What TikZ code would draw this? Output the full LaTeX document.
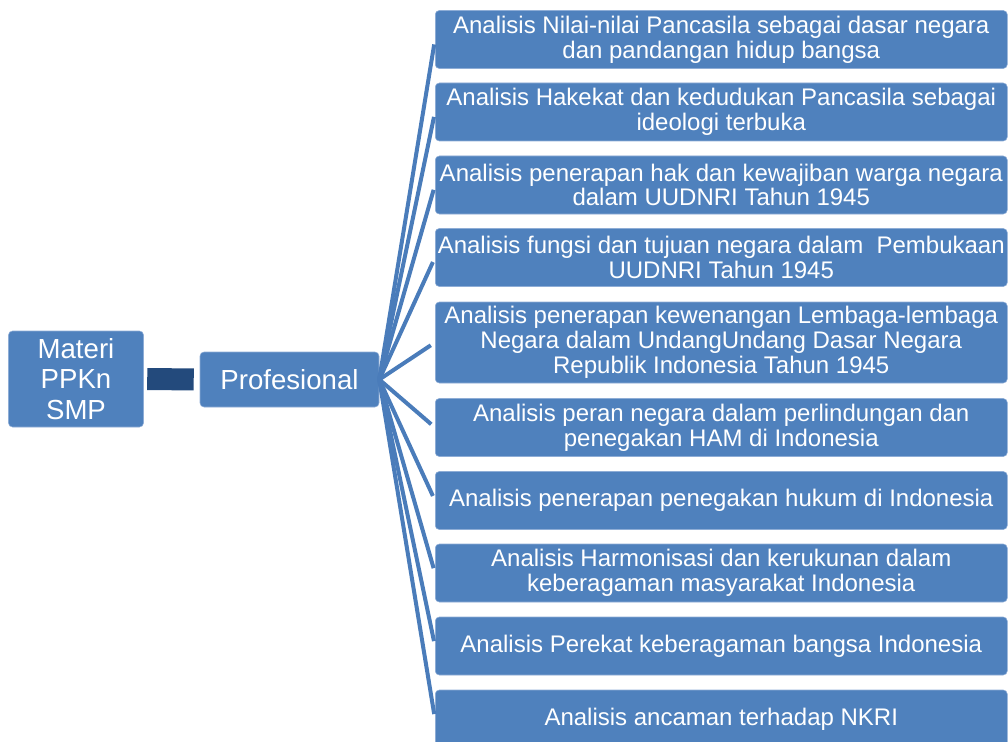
\documentclass[tikz,border=0pt]{standalone}
\usepackage{fontspec}
\setmainfont{Liberation Sans}
\definecolor{boxblue}{HTML}{4F81BD}
\definecolor{edgeblue}{HTML}{8EADD6}
\definecolor{linkblue}{HTML}{234A7C}
\definecolor{fanblue}{HTML}{4A7CBA}
\begin{document}
\begin{tikzpicture}[x=0.75pt,y=-0.75pt,
  base/.style={fill=boxblue, draw=edgeblue, line width=0.4pt, rounded corners=3pt, text=white, align=center, inner sep=0pt},
  item/.style={base, minimum width=429pt, minimum height=43.5pt, anchor=west, font=\fontsize{18}{18.6}\selectfont},
  big/.style={base, font=\fontsize{20.7}{22.9}\selectfont},
  fan/.style={draw=fanblue, line width=3pt, shorten >=3.75pt},
  link/.style={draw=linkblue, line width=16.5pt, shorten <=2.6pt, shorten >=4.5pt}]
\useasboundingbox (0,0) rectangle (1008,742);

\node[big, minimum width=101.25pt, minimum height=72pt] (mat) at (76,379) {Materi\\PPKn\\SMP};
\node[big, minimum width=134.25pt, minimum height=41.25pt] (prof) at (289.5,379.5) {Profesional};

\node[item] (b1) at (435,39.5) {Analisis Nilai-nilai Pancasila sebagai dasar negara\\dan pandangan hidup bangsa};
\node[item] (b2) at (435,112) {Analisis Hakekat dan kedudukan Pancasila sebagai\\ideologi terbuka};
\node[item] (b3) at (435,185) {Analisis penerapan hak dan kewajiban warga negara\\dalam UUDNRI Tahun 1945};
\node[item] (b4) at (435,257.5) {Analisis fungsi dan tujuan negara dalam\ \ Pembukaan\\UUDNRI Tahun 1945};
\node[item, minimum height=60.75pt] (b5) at (435,342.5) {Analisis penerapan kewenangan Lembaga-lembaga\\Negara dalam UndangUndang Dasar Negara\\Republik Indonesia Tahun 1945};
\node[item] (b6) at (435,427.5) {Analisis peran negara dalam perlindungan dan\\penegakan HAM di Indonesia};
\node[item] (b7) at (435,500.5) {Analisis penerapan penegakan hukum di Indonesia};
\node[item] (b8) at (435,573) {Analisis Harmonisasi dan kerukunan dalam\\keberagaman masyarakat Indonesia};
\node[item] (b9) at (435,646) {Analisis Perekat keberagaman bangsa Indonesia};
\node[item] (b10) at (435,719) {Analisis ancaman terhadap NKRI};

\draw[link] (mat.east) -- (prof.west);
\foreach \i in {1,...,10} \draw[fan] (prof.east) -- (b\i.west);
\end{tikzpicture}
\end{document}
